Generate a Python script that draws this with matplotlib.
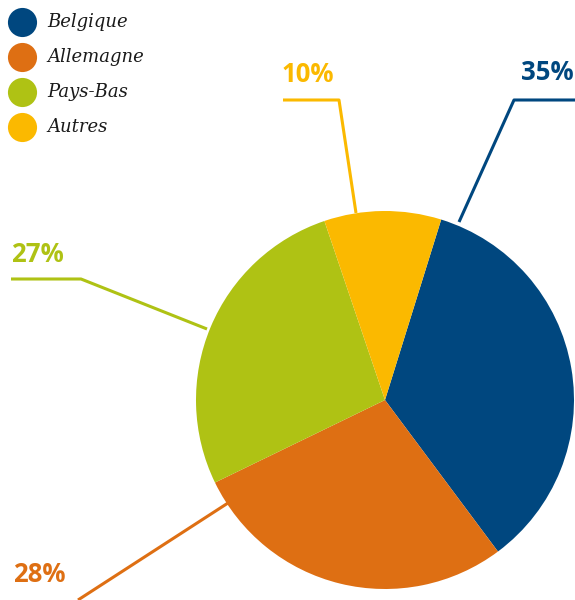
import matplotlib.pyplot as plt

countries = ["Belgique", "Allemagne", "Pays-Bas", "Autres"]
shares = [35, 28, 27, 10]
colors = ["#00477f", "#de6f13", "#afc214", "#fbb900"]

# leader lines (pixel coords, y down): start on pie, elbow, end; label anchor
leaders = [
    [(459, 222), (514, 100), (575, 100)],
    [(228, 503), (78, 600), (78, 600)],
    [(207, 329), (81, 279), (11, 279)],
    [(356, 213), (339, 100), (283, 100)],
]
label_pos = [(574, 72, "right"), (13, 575, "left"), (11, 255, "left"), (282, 75, "left")]

W, H = 575, 600
fig = plt.figure(figsize=(W / 100, H / 100), dpi=100)
ax = fig.add_axes([0, 0, 1, 1])

ax.pie(shares, colors=colors, center=(385, H - 400), radius=189,
       startangle=72.7, counterclock=False, frame=True,
       wedgeprops=dict(linewidth=0))
ax.set_xlim(0, W)
ax.set_ylim(0, H)
ax.set_aspect("equal")
ax.axis("off")

for i in range(len(shares)):
    pts = leaders[i]
    ax.plot([p[0] for p in pts], [H - p[1] for p in pts], color=colors[i], lw=2.2,
            solid_capstyle="butt", clip_on=False)
    x, y, ha = label_pos[i]
    ax.text(x, H - y, "%d%%" % shares[i], color=colors[i], fontsize=18.5,
            fontweight="bold", family="Open Sans", ha=ha, va="center")

for i in range(len(countries)):
    y = 22 + 35 * i
    ax.scatter([22], [H - y], s=440, color=colors[i], linewidths=0)
    ax.text(47, H - y, countries[i], fontsize=13, style="italic", family="DejaVu Serif",
            color="#1a1a1a", va="center", ha="left")

fig.savefig("out.png", dpi=100)
